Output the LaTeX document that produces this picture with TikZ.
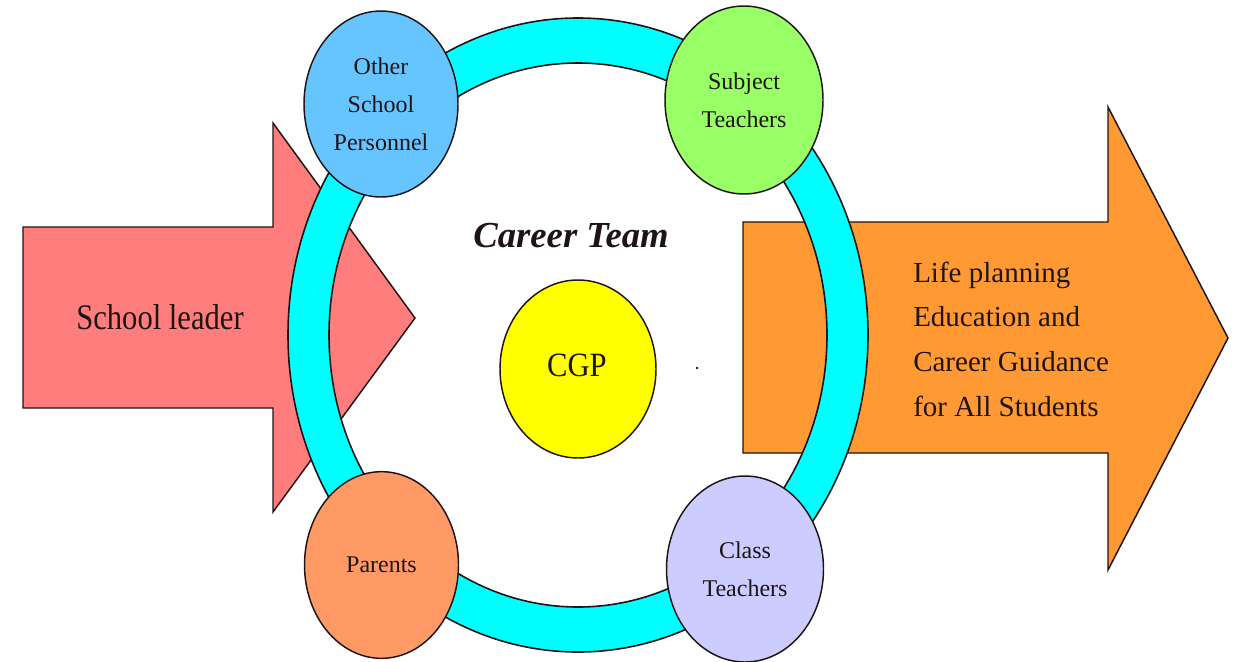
\documentclass[tikz,border=0pt]{standalone}
\usepackage{fontspec}
\setmainfont{Liberation Serif}
\usetikzlibrary{shapes.geometric}
\definecolor{pinkA}{RGB}{255,125,125}
\definecolor{orangeA}{RGB}{255,153,51}
\definecolor{ringC}{RGB}{0,255,255}
\definecolor{blueC}{RGB}{102,196,255}
\definecolor{greenC}{RGB}{153,255,102}
\definecolor{yellowC}{RGB}{255,255,0}
\definecolor{parentsC}{RGB}{255,153,102}
\definecolor{classC}{RGB}{204,204,255}
\definecolor{inkC}{RGB}{30,20,20}
\begin{document}
\begin{tikzpicture}[x=0.75pt,y=-0.75pt,
  outline/.style={draw=inkC, line width=1.1pt},
  member/.style={ellipse, outline, inner sep=0pt, align=center, text=inkC,
    font=\fontsize{18}{28.5}\selectfont},
  bigtext/.style={text=inkC, inner sep=0pt}]
\useasboundingbox (0,0) rectangle (1238,661);
% input arrow
\path[fill=pinkA, outline] (23,227) -- (273,227) -- (273,123) -- (415,318)
  -- (273,512) -- (273,408) -- (23,408) -- cycle;
% output arrow
\path[fill=orangeA, outline] (743,222) -- (1108,222) -- (1108,107) -- (1228,338)
  -- (1108,570) -- (1108,453) -- (743,453) -- cycle;
% ring
\path[fill=ringC, even odd rule, draw=inkC, line width=1.2pt]
  (578,335) ellipse [x radius=217.5pt, y radius=237.75pt]
  (578,335) ellipse [x radius=186.75pt, y radius=204pt];
% members
\node[member, fill=blueC, minimum width=115.5pt, minimum height=139.5pt] (osp) at (381,104) {Other\\School\\Personnel};
\node[member, fill=greenC, minimum width=118.5pt, minimum height=141pt] (st) at (744,100) {Subject\\Teachers};
\node[member, fill=parentsC, minimum width=115.5pt, minimum height=140pt] (par) at (381.5,565) {Parents};
\node[member, fill=classC, minimum width=117.75pt, minimum height=139.5pt] (ct) at (745,569) {Class\\Teachers};
\node[ellipse, outline, fill=yellowC, minimum width=117pt, minimum height=133.5pt] (cgp) at (578,369) {};
\node[bigtext, font=\fontsize{25.5}{25.5}\selectfont] (cgplabel) at (577,365) {\scalebox{0.9}[1]{CGP}};
\node[bigtext, font=\bfseries\itshape\fontsize{27.5}{27.5}\selectfont] (team) at (571,236) {Career Team};
\node[bigtext, font=\fontsize{27}{27}\selectfont] (leader) at (160,317) {\scalebox{0.85}[1]{School leader}};
\node[bigtext, anchor=west, align=left, font=\fontsize{21.75}{33.5}\selectfont] (outcome) at (913,339)
  {Life planning\\Education and\\Career Guidance\\for All Students};
\fill[inkC] (697,368) circle[radius=1pt];
\end{tikzpicture}
\end{document}
